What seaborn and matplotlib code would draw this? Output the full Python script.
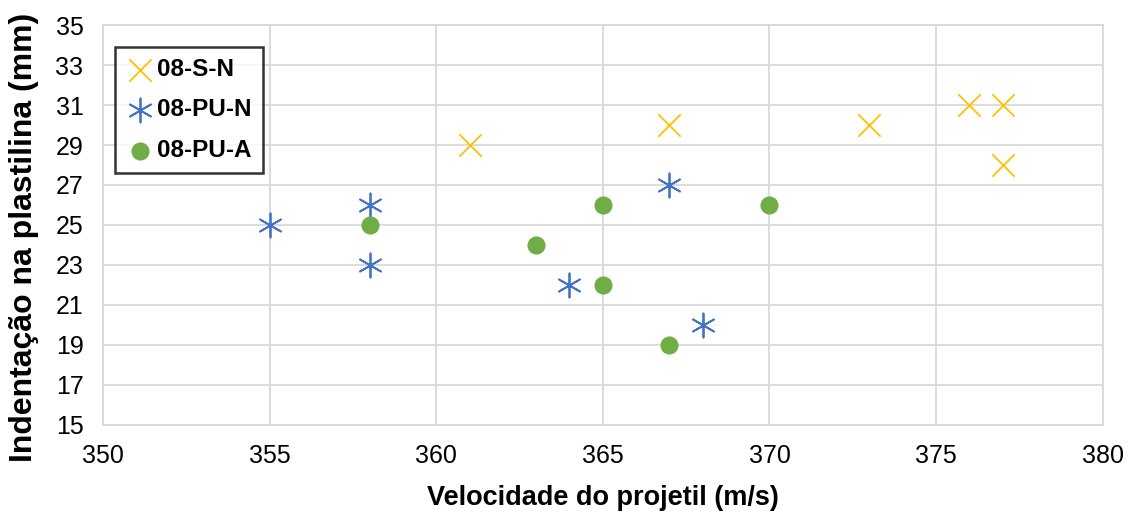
import matplotlib
matplotlib.use("Agg")
import matplotlib.pyplot as plt
import seaborn as sns
import pandas as pd
from matplotlib import font_manager

series_names = ["08-S-N", "08-PU-N", "08-PU-A"]
sn_x = [361, 367, 373, 376, 377, 377]
sn_y = [29, 30, 30, 31, 31, 28]
pun_x = [355, 358, 358, 364, 367, 368]
pun_y = [25, 26, 23, 22, 27, 20]
pua_x = [358, 363, 365, 365, 367, 370]
pua_y = [25, 24, 26, 22, 19, 26]
x_ticks = [350, 355, 360, 365, 370, 375, 380]
y_ticks = [15, 17, 19, 21, 23, 25, 27, 29, 31, 33, 35]

df = pd.concat([
    pd.DataFrame({"x": sn_x, "y": sn_y, "s": series_names[0]}),
    pd.DataFrame({"x": pun_x, "y": pun_y, "s": series_names[1]}),
    pd.DataFrame({"x": pua_x, "y": pua_y, "s": series_names[2]}),
])

sns.set_theme(style="white")
names = {f.name for f in font_manager.fontManager.ttflist}
fam = "Liberation Sans Narrow" if "Liberation Sans Narrow" in names else "Liberation Sans"
plt.rcParams["font.family"] = [fam, "DejaVu Sans"]
plt.rcParams["text.color"] = "black"
plt.rcParams["axes.labelcolor"] = "black"
plt.rcParams["xtick.color"] = "black"
plt.rcParams["ytick.color"] = "black"

fig = plt.figure(figsize=(11.31, 5.22), dpi=100)
ax = fig.add_axes([0.091, 0.186, 0.884, 0.766])

palette = {"08-S-N": "#FFC000", "08-PU-N": "#4472C4", "08-PU-A": "#70AD47"}
markers = {"08-S-N": "x", "08-PU-N": (6, 2, 0), "08-PU-A": "o"}
sizes = {"08-S-N": 260, "08-PU-N": 300, "08-PU-A": 170}
for name in series_names:
    sub = df[df["s"] == name]
    kw = dict(linewidth=1.3) if name != "08-PU-A" else dict(linewidth=0)
    sns.scatterplot(data=sub, x="x", y="y", ax=ax, color=palette[name],
                    marker=markers[name], s=sizes[name], label=name, zorder=3, **kw)

ax.set_xlim(350, 380)
ax.set_ylim(15, 35)
ax.set_xticks(x_ticks)
ax.set_yticks(y_ticks)
ax.tick_params(axis="both", labelsize=18, length=0, colors="black")
ax.tick_params(axis="x", pad=14)
ax.tick_params(axis="y", pad=14)
ax.grid(True, color="#D9D9D9", linewidth=1.3)
ax.set_axisbelow(True)
for sp in ax.spines.values():
    sp.set_color("#D9D9D9")
    sp.set_linewidth(1.3)

ax.set_xlabel("Velocidade do projetil (m/s)", fontsize=19.5, fontweight="bold", labelpad=12,
              color="black")
ax.set_ylabel("Indentação na plastilina (mm)", fontsize=23, fontweight="bold", color="black")
ax.yaxis.set_label_coords(-0.064, 0.47)

leg = ax.legend(loc="upper left", bbox_to_anchor=(0.012, 0.945), frameon=True, fancybox=False,
                edgecolor="black", prop={"family": [fam, "DejaVu Sans"], "weight": "bold", "size": 17.5},
                handletextpad=0.1, borderpad=0.45, labelspacing=0.72, handlelength=1.2,
                borderaxespad=0)
leg.get_frame().set_linewidth(1.8)
for t in leg.get_texts():
    t.set_color("black")

fig.savefig("out.png", dpi=100)
